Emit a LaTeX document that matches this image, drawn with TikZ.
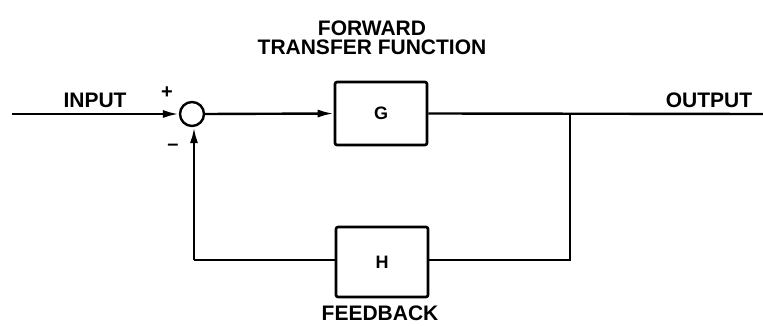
\documentclass[tikz,border=0pt]{standalone}
\usepackage{fontspec}
\setmainfont{Liberation Sans}
\usetikzlibrary{arrows.meta}
\begin{document}
\begin{tikzpicture}[x=1pt,y=-1pt,
  wire/.style={line width=2.4pt},
  arr/.style={wire,-{Latex[length=16pt,width=8pt]}},
  blk/.style={draw,line width=2.6pt,rounded corners=2pt,minimum width=92pt,minimum height=66pt,inner sep=0pt,font=\bfseries\fontsize{18}{18}\selectfont},
  lbl/.style={font=\bfseries\fontsize{21}{22}\selectfont,inner sep=0pt,align=center},
  sgn/.style={font=\bfseries\fontsize{20}{20}\selectfont,inner sep=0pt}]
\useasboundingbox (0,0) rectangle (763,326);
\node[draw,circle,line width=2.4pt,minimum size=24pt,inner sep=0pt] (sum) at (192,114) {};
\node[blk,minimum height=63pt] (G) at (381,113.5) {G};
\node[blk,minimum height=70pt] (H) at (382,262) {H};
\coordinate (in) at (12,114);
\coordinate (br) at (570,114);
\coordinate (out) at (763,114);
\coordinate (fr) at (570,260);
\coordinate (fl) at (194,260);
\draw[arr] (in) -- (sum.west);
\draw[arr] (sum.east) -- (G.west);
\draw[wire] (G.east) -- (out);
\draw[wire] (br) -- (fr) -- (H.east |- fr);
\draw[wire] (H.west |- fl) -- (fl);
\draw[arr] (fl) -- (fl |- sum.south);
\node[lbl] (lin) at (95,100) {INPUT};
\node[lbl] (lout) at (709,100) {OUTPUT};
\node[lbl] (lfw) at (372,38) {FORWARD\\[-3pt]TRANSFER FUNCTION};
\node[lbl] (lfb) at (380,313) {FEEDBACK};
\node[sgn] (plus) at (167,93) {+};
\node[sgn] (minus) at (173,147) {\textendash};
\end{tikzpicture}
\end{document}
